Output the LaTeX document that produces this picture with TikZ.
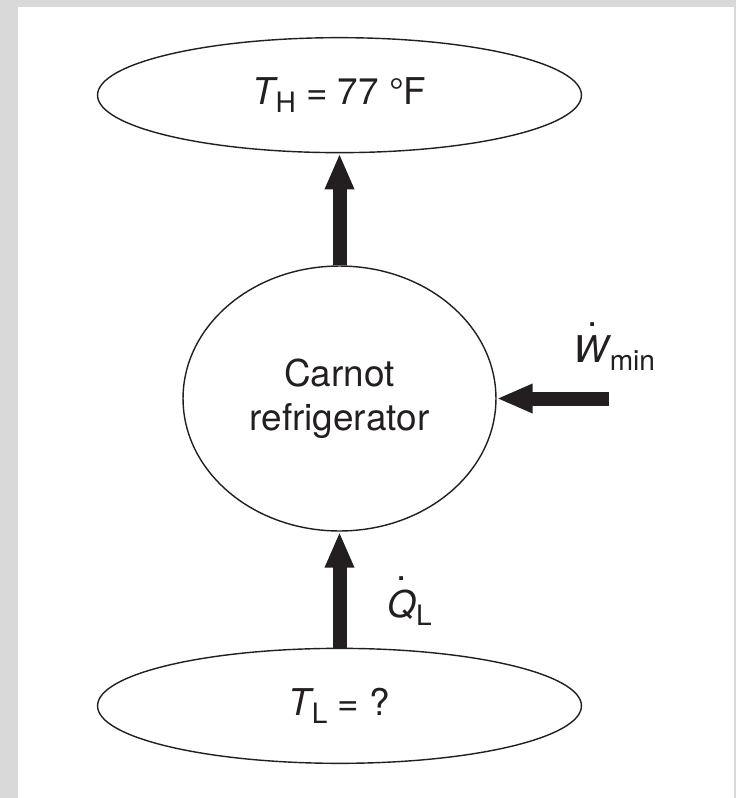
\documentclass[tikz,border=0pt]{standalone}
\usepackage{fontspec}
\setmainfont{TeX Gyre Heros}
\usepackage{xcolor}
\usetikzlibrary{arrows.meta,positioning,shapes.geometric}
\definecolor{inkdark}{RGB}{35,31,32}
\definecolor{framegray}{RGB}{217,217,217}
\newcommand{\lowsub}[1]{\raisebox{-5pt}{\fontsize{16}{16}\selectfont #1}}
\newcommand{\ratedot}[1]{\leavevmode\vbox{\offinterlineskip\halign{\hfil##\hfil\cr.\cr\noalign{\kern 5pt}#1\cr}}}

\begin{document}
\begin{tikzpicture}[
    x=0.02cm, y=-0.02cm,
    every node/.style={font=\fontsize{21}{25}\selectfont, text=inkdark},
    reservoir/.style={
        ellipse,
        draw=inkdark,
        line width=0.8pt,
        minimum width=9.68cm,
        minimum height=2.3cm,
        inner sep=0pt
    },
    device/.style={
        ellipse,
        draw=inkdark,
        line width=0.8pt,
        align=center,
        minimum width=6.26cm,
        minimum height=5.3cm,
        inner sep=0pt
    },
    flow/.style={-{Triangle[length=0.72cm,width=0.54cm]}, line width=0.28cm, draw=inkdark}
]

% page frame
\fill[framegray] (0,0) rectangle (736,798);
\fill[white] (18,7) rectangle (734,798);
\useasboundingbox (0,0) rectangle (736,798);

\node[device] (fridge) at (339.5,398.5) {Carnot\\refrigerator};

\node[reservoir, above=2.24cm of fridge] (hot)
{\textit{T}\kern-1.5pt\lowsub{H} = 77 °F};

\node[reservoir, below=2.32cm of fridge] (cold)
{\textit{T}\kern-1.5pt\lowsub{L} = ?};

\coordinate (wtail) at ([xshift=2.24cm]fridge.east);

\node[anchor=base west, inner sep=0pt] (wlabel) at (573,362)
{\ratedot{\textit{W}}\kern-1pt\lowsub{min}};
\node[anchor=base west, inner sep=0pt] (qlabel) at (387,617)
{\ratedot{\textit{Q}}\lowsub{L}};

\draw[flow] (fridge.north) -- (hot.south);
\draw[flow] (cold.north) -- (fridge.south);
\draw[flow] (wtail) -- (fridge.east);

\end{tikzpicture}
\end{document}
